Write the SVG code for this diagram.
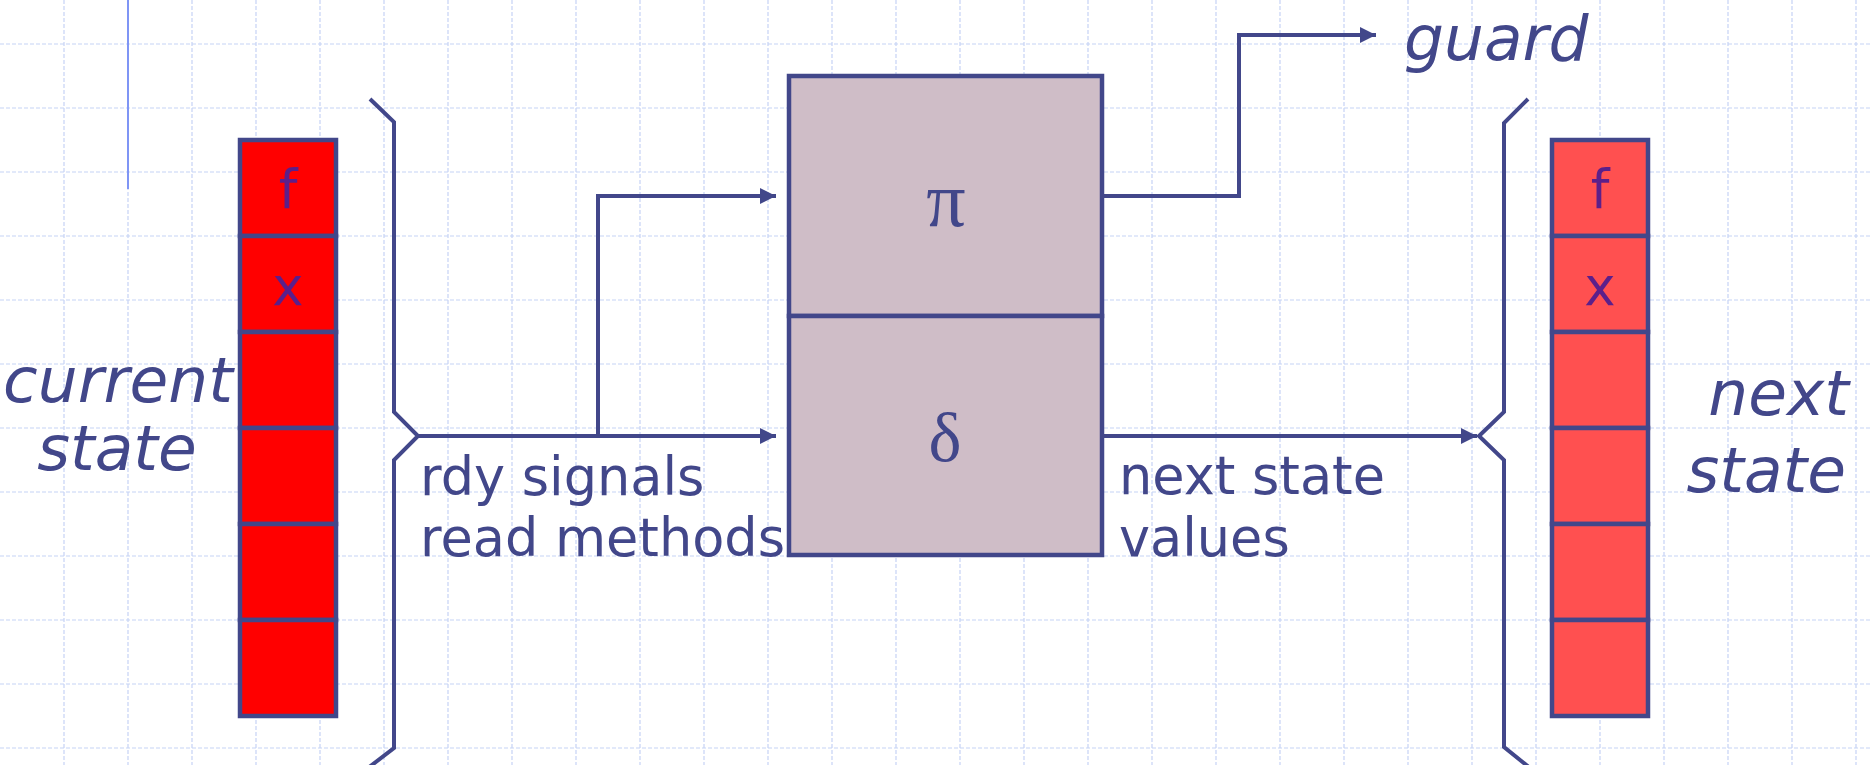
<svg xmlns="http://www.w3.org/2000/svg" width="1872" height="765" viewBox="0 0 1872 765">
<defs>
<style>
.grid{stroke:#c6d3f6;stroke-width:1.2;stroke-dasharray:4 2;fill:none}
.ln{stroke:#42478a;stroke-width:4;fill:none;stroke-linejoin:miter}
.cell{stroke:#42478a;stroke-width:4.5}
.lbl{font-family:"DejaVu Sans",Verdana,sans-serif;font-size:52.5px;fill:#42478a}
.it{font-family:"DejaVu Sans",Verdana,sans-serif;font-size:63px;font-style:italic;fill:#42478a}
.reg{font-family:"DejaVu Sans",Verdana,sans-serif;font-size:53px;fill:#5c1f8a;text-anchor:middle}
.gr{font-family:"Liberation Serif","Times New Roman",serif;fill:#42478a;text-anchor:middle}
</style>
<marker id="ah" markerWidth="16" markerHeight="16" refX="16" refY="8" orient="auto" markerUnits="userSpaceOnUse">
<path d="M0,0 L16,8 L0,16 Z" fill="#42478a"/>
</marker>
</defs>
<rect width="1872" height="765" fill="#ffffff"/>
<g id="grid">
<path class="grid" d="M64,0V765M128,0V765M192,0V765M256,0V765M320,0V765M384,0V765M448,0V765M512,0V765M576,0V765M640,0V765M704,0V765M768,0V765M832,0V765M896,0V765M960,0V765M1024,0V765M1088,0V765M1152,0V765M1216,0V765M1280,0V765M1344,0V765M1408,0V765M1472,0V765M1536,0V765M1600,0V765M1664,0V765M1728,0V765M1792,0V765M1856,0V765"/>
<path class="grid" d="M0,44H1872M0,108H1872M0,172H1872M0,236H1872M0,300H1872M0,364H1872M0,428H1872M0,492H1872M0,556H1872M0,620H1872M0,684H1872M0,748H1872"/>
<line x1="128" y1="0" x2="128" y2="189" stroke="#7f95f5" stroke-width="2"/>
</g>
<g id="current-register">
<rect class="cell" x="240" y="140" width="96" height="96" fill="#ff0000"/>
<rect class="cell" x="240" y="236" width="96" height="96" fill="#ff0000"/>
<rect class="cell" x="240" y="332" width="96" height="96" fill="#ff0000"/>
<rect class="cell" x="240" y="428" width="96" height="96" fill="#ff0000"/>
<rect class="cell" x="240" y="524" width="96" height="96" fill="#ff0000"/>
<rect class="cell" x="240" y="620" width="96" height="96" fill="#ff0000"/>
<text class="reg" x="288" y="208">f</text>
<text class="reg" x="288" y="305">x</text>
</g>
<g id="next-register">
<rect class="cell" x="1552" y="140" width="96" height="96" fill="#ff5050"/>
<rect class="cell" x="1552" y="236" width="96" height="96" fill="#ff5050"/>
<rect class="cell" x="1552" y="332" width="96" height="96" fill="#ff5050"/>
<rect class="cell" x="1552" y="428" width="96" height="96" fill="#ff5050"/>
<rect class="cell" x="1552" y="524" width="96" height="96" fill="#ff5050"/>
<rect class="cell" x="1552" y="620" width="96" height="96" fill="#ff5050"/>
<text class="reg" x="1600" y="208">f</text>
<text class="reg" x="1600" y="305">x</text>
</g>
<g id="logic-box">
<rect class="cell" x="789" y="76" width="313" height="240" fill="#cfbdc7"/>
<rect class="cell" x="789" y="316" width="313" height="239" fill="#cfbdc7"/>
<text class="gr" x="946" y="226" font-size="78px">π</text>
<text class="gr" x="945" y="461" font-size="70px">δ</text>
</g>
<g id="labels">
<text class="it" x="118" y="402" text-anchor="middle">current</text>
<text class="it" x="117" y="470" text-anchor="middle">state</text>
<text class="it" x="1849" y="415" text-anchor="end">next</text>
<text class="it" x="1846" y="492" text-anchor="end">state</text>
<text class="it" x="1404" y="60">guard</text>
<text class="lbl" x="420" y="495">rdy signals</text>
<text class="lbl" x="420" y="556">read methods</text>
<text class="lbl" x="1119" y="494">next state</text>
<text class="lbl" x="1119" y="556">values</text>
</g>
<g id="connectors">
<path class="ln" d="M370,99 L394,122 L394,412 L418,436 L394,460 L394,748 L368,768"/>
<path class="ln" d="M1528,99 L1504,123 L1504,412 L1479,436 L1504,460 L1504,747 L1530,768"/>
<path class="ln" d="M418,436 L776,436" marker-end="url(#ah)"/>
<path class="ln" d="M598,436 L598,196 L776,196" marker-end="url(#ah)"/>
<path class="ln" d="M1102,196 L1239,196 L1239,35 L1376,35" marker-end="url(#ah)"/>
<path class="ln" d="M1102,436 L1477,436" marker-end="url(#ah)"/>
</g>
</svg>
